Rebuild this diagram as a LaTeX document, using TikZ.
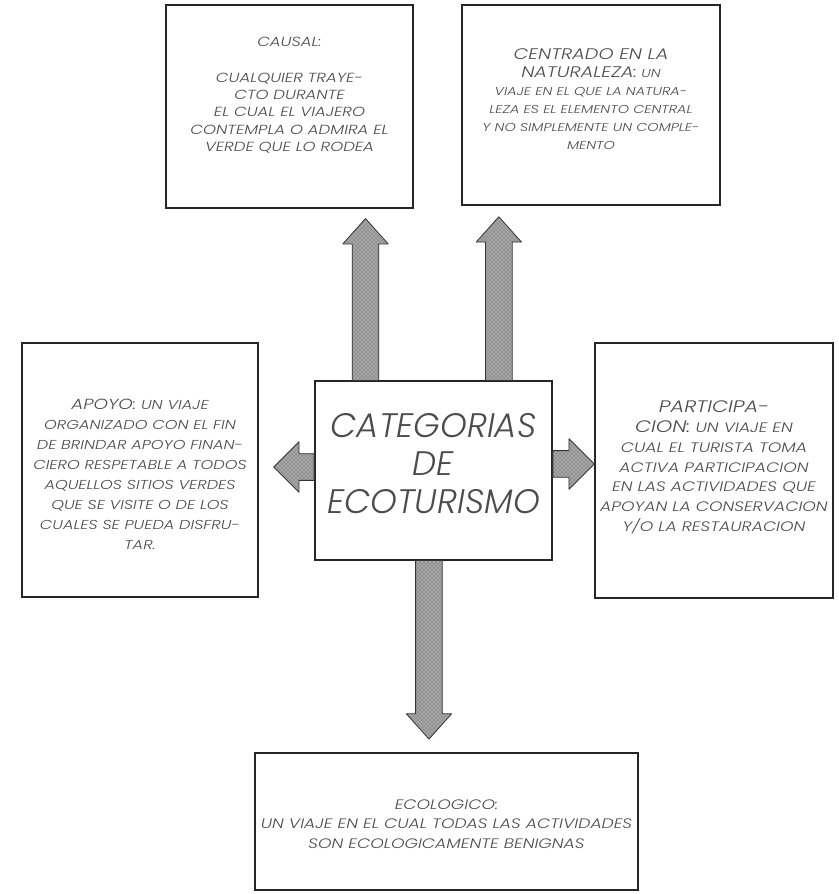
\documentclass[tikz,border=0pt]{standalone}
\usepackage{fontspec}
\usepackage{tikz}
\usetikzlibrary{calc,patterns,positioning}
\newfontfamily\handfont{Poppins Light Italic}[FakeStretch=1.25]
\newfontfamily\titlefont{Poppins Light Italic}

\begin{document}
\begin{tikzpicture}
            [x=0.75pt, y=-0.75pt,
            every node/.style={align=center, inner sep=0pt, text=black!70},
            box/.style={draw=black!85, line width=1.1pt, rectangle},
            fat/.style={draw=black!80, line width=0.6pt, line join=round,
                preaction={fill=gray!70},
                pattern=crosshatch dots, pattern color=black!70,
                to path={
                    let \p1=(\tikztostart), \p2=(\tikztotarget),
                        \n1={atan2(\y2-\y1,\x2-\x1)},
                        \n2={veclen(\x2-\x1,\y2-\y1)-19pt}
                    in ($(\p1)+(\n1+90:10pt)$)
                    -- ($(\p1)+(\n1+90:10pt)+(\n1:\n2)$)
                    -- ($(\p1)+(\n1+90:#1)+(\n1:\n2)$)
                    -- (\p2)
                    -- ($(\p1)+(\n1-90:#1)+(\n1:\n2)$)
                    -- ($(\p1)+(\n1-90:10pt)+(\n1:\n2)$)
                    -- ($(\p1)+(\n1-90:10pt)$) -- cycle}},
            fat/.default=17pt]

            \useasboundingbox (0,0) rectangle (839,894);

            \node[box, minimum width=185pt, minimum height=152pt] (causal) at (289.5,106.5) {};
            \node[box, minimum width=193.5pt, minimum height=150pt] (natur) at (591,105) {};
            \node[box, minimum width=177pt, minimum height=190.5pt] (apoyo) at (140,470) {};
            \node[box, minimum width=178.5pt, minimum height=191pt] (partic) at (714,470.5) {};
            \node[box, minimum width=178pt, minimum height=134pt] (ctr) at (433.5,470.5) {};
            \node[box, minimum width=287pt, minimum height=103pt] (ecolog) at (446.5,821.5) {};

            \node[font=\handfont\fontsize{9.9}{13}\selectfont] (causal-t) at ([yshift=8.6pt]causal.center)
                {CAUSAL:\\[14pt]
                 CUALQUIER TRAYE-\\CTO DURANTE\\EL CUAL EL VIAJERO\\
                 CONTEMPLA O ADMIRA EL\\VERDE QUE LO RODEA};
            \node[font=\handfont\fontsize{8.6}{13.5}\selectfont] (natur-t) at ([yshift=4.5pt]natur.center)
                {{\fontsize{11.5}{16}\selectfont CENTRADO EN LA}\\
                 {\fontsize{11.5}{16}\selectfont NATURALEZA:} UN\\
                 VIAJE EN EL QUE LA NATURA-\\LEZA ES EL ELEMENTO CENTRAL\\
                 Y NO SIMPLEMENTE UN COMPLE-\\MENTO};
            \node[font=\handfont\fontsize{9.7}{15}\selectfont] (apoyo-t) at ([yshift=-3pt]apoyo.center)
                {{\fontsize{11}{15}\selectfont APOYO:} UN VIAJE\\
                 ORGANIZADO CON EL FIN\\DE BRINDAR APOYO FINAN-\\
                 CIERO RESPETABLE A TODOS\\AQUELLOS SITIOS VERDES\\
                 QUE SE VISITE O DE LOS\\CUALES SE PUEDA DISFRU-\\TAR.};
            \node[font=\handfont\fontsize{10.3}{14.8}\selectfont] (partic-t) at ([yshift=2.3pt]partic.center)
                {{\fontsize{12.5}{15.5}\selectfont PARTICIPA-}\\
                 {\fontsize{12.5}{15.5}\selectfont CION:} UN VIAJE EN\\
                 CUAL EL TURISTA TOMA\\ACTIVA PARTICIPACION\\
                 EN LAS ACTIVIDADES QUE\\APOYAN LA CONSERVACION\\Y/O LA RESTAURACION};
            \node[font=\titlefont\fontsize{25.5}{28.5}\selectfont] (ctr-t) at ([yshift=5pt]ctr.center)
                {CATEGORIAS\\DE\\ECOTURISMO};
            \node[font=\handfont\fontsize{10.3}{14.6}\selectfont] (ecolog-t) at ([yshift=-2pt]ecolog.center)
                {ECOLOGICO:\\UN VIAJE EN EL CUAL TODAS LAS ACTIVIDADES\\SON ECOLOGICAMENTE BENIGNAS};

            \coordinate (up-l) at ([xshift=-51pt]ctr.north);
            \coordinate (up-r) at ([xshift=49pt]ctr.north);
            \coordinate (lt) at ([yshift=2.6pt]ctr.west);
            \coordinate (rt) at ([yshift=4.9pt]ctr.east);
            \coordinate (dn) at ([xshift=-3.4pt]ctr.south);

            \draw[fat] (up-l) to ($(causal.south -| up-l)+(0,10)$);
            \draw[fat] (up-r) to ($(natur.south -| up-r)+(0,11)$);
            \draw[fat=19pt] (lt) to ($(apoyo.east |- lt)+(15,0)$);
            \draw[fat=19pt] (rt) to (partic.west |- rt);
            \draw[fat] (dn) to ($(ecolog.north -| dn)+(0,-13)$);
\end{tikzpicture}
\end{document}
